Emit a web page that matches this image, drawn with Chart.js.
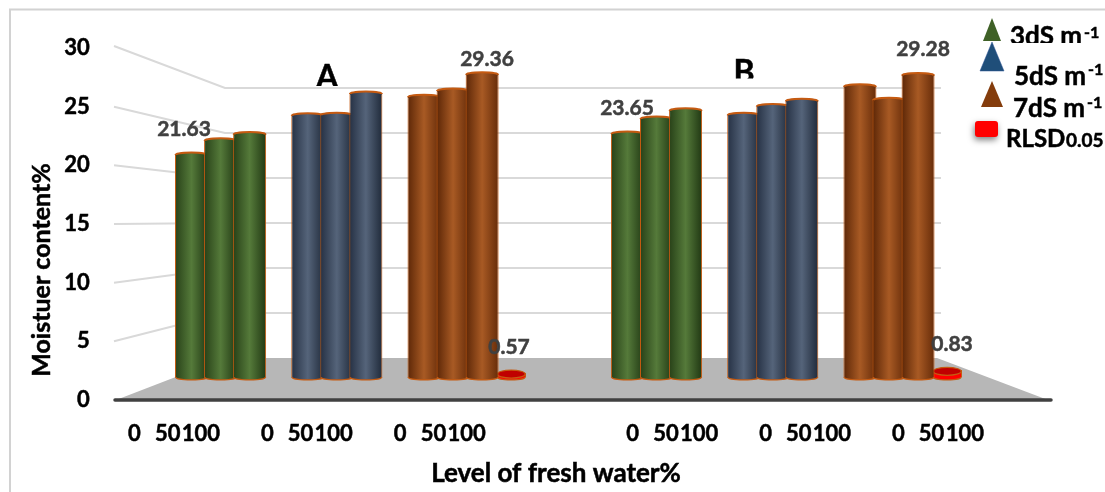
<!DOCTYPE html>
<html>
<head>
<meta charset="utf-8">
<title>Moisture content</title>
<script src="https://cdn.jsdelivr.net/npm/chart.js@4"></script>
<style>
  html, body { margin: 0; padding: 0; background: #fff; }
  canvas { display: block; }
</style>
</head>
<body>
<canvas id="chart" width="1105" height="492"></canvas>
<script>
// one entry per bar slot, null = gap between the groups
const slots = new Array(32).fill("");
const salt3 = [null, null, 21.63, 23.0, 23.6, null, null, null, null, null, null, null, null, null, null, null, null, 23.65, 25.1, 25.9, null, null, null, null, null, null, null, null, null, null, null, null];
const salt5 = [null, null, null, null, null, null, 25.4, 25.45, 27.5, null, null, null, null, null, null, null, null, null, null, null, null, 25.45, 26.3, 26.8, null, null, null, null, null, null, null, null];
const salt7 = [null, null, null, null, null, null, null, null, null, null, 27.2, 27.8, 29.36, null, null, null, null, null, null, null, null, null, null, null, null, 28.2, 26.9, 29.28, null, null, null, null];
const rlsd = [null, null, null, null, null, null, null, null, null, null, null, null, null, 0.57, null, null, null, null, null, null, null, null, null, null, null, null, null, null, 0.83, null, null, null];

// bottom axis, its own 28 slots because the labels do not line up with the bars
const waterTicks = ["0", "50", "100", "", "0", "50", "100", "", "0", "50", "100", "", "", "", "", "0", "50", "100", "", "0", "50", "100", "", "0", "50", "100", "", ""];
const moistureTicks = [0, 5, 10, 15, 20, 25, 30];

const yTitle = "Moistuer content%";
const xTitle = "Level of fresh water%";
const FONT = "Lato, 'Open Sans', sans-serif";

function cylinderFill(stops) {
  return (c) => {
    if (c.dataIndex === undefined) return stops[1];
    const scale = c.chart.scales.x;
    const mid = scale.getPixelForValue(c.dataIndex);
    if (!Number.isFinite(mid)) return stops[1]; // first pass, before layout
    const half = 17;
    const g = c.chart.ctx.createLinearGradient(mid - half, 0, mid + half, 0);
    g.addColorStop(0, stops[0]);
    g.addColorStop(0.5, stops[1]);
    g.addColorStop(1, stops[2]);
    return g;
  };
}

// bar with rounded top and bottom so that it looks like a cylinder
class CylinderBar extends Chart.BarElement {
  draw(ctx) {
    const { x, y, base, width } = this;
    const o = this.options;
    const disc = base - y < 20;
    const rx = width / 2 - 0.5;
    ctx.save();
    ctx.fillStyle = o.backgroundColor;
    ctx.strokeStyle = o.borderColor;
    ctx.lineWidth = 1.2;
    ctx.beginPath();
    ctx.ellipse(x, base, rx, 3, 0, 0, Math.PI);
    ctx.fill();
    ctx.stroke();
    ctx.restore();
    super.draw(ctx);
    ctx.save();
    ctx.fillStyle = disc ? "#c00000" : o.backgroundColor;
    ctx.strokeStyle = o.borderColor;
    ctx.lineWidth = disc ? 1.2 : 2;
    ctx.beginPath();
    ctx.ellipse(x, y + 1, rx, disc ? 4 : 2.5, 0, 0, Math.PI * 2);
    ctx.fill();
    if (!disc) {
      // only the far edge of the top shows
      ctx.beginPath();
      ctx.ellipse(x, y + 1, rx, 2.5, 0, Math.PI, Math.PI * 2);
    }
    ctx.stroke();
    ctx.restore();
  }
}
CylinderBar.id = "cylinderBar";
CylinderBar.defaults = Chart.BarElement.defaults;
Chart.register(CylinderBar);
Chart.defaults.datasets.bar.dataElementType = "cylinderBar";

function text(ctx, str, x, y, font, color, align) {
  ctx.font = font;
  ctx.fillStyle = color || "#000";
  ctx.strokeStyle = color || "#000";
  ctx.lineWidth = 0.5;
  ctx.textAlign = align || "left";
  ctx.textBaseline = "alphabetic";
  ctx.strokeText(str, x, y);
  ctx.fillText(str, x, y);
}

// same text but with everything under clipY cut off, like in the original picture
function clippedText(ctx, str, x, y, clipY, font, align) {
  ctx.save();
  ctx.beginPath();
  ctx.rect(0, 0, 1105, clipY);
  ctx.clip();
  text(ctx, str, x, y, font, "#000", align);
  ctx.restore();
}

function triangle(ctx, mid, top, half, bottom, color, edge) {
  ctx.beginPath();
  ctx.moveTo(mid, top);
  ctx.lineTo(mid + half, bottom);
  ctx.lineTo(mid - half, bottom);
  ctx.closePath();
  ctx.fillStyle = color;
  ctx.fill();
  if (edge) {
    ctx.strokeStyle = edge;
    ctx.stroke();
  }
}

const wallPlugin = {
  id: "wall",
  beforeDatasetsDraw(chart) {
    const ctx = chart.ctx;
    const y = chart.scales.y;
    const backZero = 358;
    const backUnit = 9;
    ctx.save();
    // frame
    ctx.strokeStyle = "#d2d2d2";
    ctx.lineWidth = 2;
    ctx.beginPath();
    ctx.moveTo(1105, 9.5);
    ctx.lineTo(10, 9.5);
    ctx.lineTo(10, 492);
    ctx.stroke();
    // floor
    ctx.fillStyle = "#b7b7b7";
    ctx.beginPath();
    ctx.moveTo(116, 400);
    ctx.lineTo(225, backZero);
    ctx.lineTo(937, backZero);
    ctx.lineTo(1048, 400);
    ctx.closePath();
    ctx.fill();
    // grid on the back wall
    ctx.strokeStyle = "#d9d9d9";
    ctx.lineWidth = 2;
    moistureTicks.forEach((v) => {
      if (v === 0) return;
      const back = backZero - v * backUnit;
      ctx.beginPath();
      ctx.moveTo(114, y.getPixelForValue(v) - (v === 30 ? 2 : 0));
      ctx.lineTo(225, back);
      ctx.lineTo(941, back);
      ctx.stroke();
    });
    // axis line
    ctx.strokeStyle = "#404040";
    ctx.lineWidth = 3.5;
    ctx.lineCap = "round";
    ctx.beginPath();
    ctx.moveTo(115, 400);
    ctx.lineTo(1051, 400);
    ctx.stroke();
    ctx.restore();
  },
  afterDatasetsDraw(chart) {
    const ctx = chart.ctx;
    ctx.save();
    const gray = "#404040";
    const small = "bold 21px " + FONT;
    text(ctx, "21.63", 184, 136, small, gray, "center");
    text(ctx, "29.36", 487, 66, small, gray, "center");
    text(ctx, "0.57", 509, 354, small, gray, "center");
    text(ctx, "23.65", 627, 115, small, gray, "center");
    text(ctx, "29.28", 923, 56, small, gray, "center");
    text(ctx, "0.83", 952, 351, small, gray, "center");

    clippedText(ctx, "A", 327, 88, 86, "bold 32px " + FONT, "center");
    clippedText(ctx, "B", 744, 83, 78.5, "bold 32px " + FONT, "center");

    text(ctx, xTitle, 556, 482, "bold 26px " + FONT, "#000", "center");
    ctx.save();
    ctx.translate(50, 270);
    ctx.rotate(-Math.PI / 2);
    text(ctx, yTitle, 0, 0, "bold 25px " + FONT, "#000", "center");
    ctx.restore();

    // legend
    const big = "bold 26px " + FONT;
    const sup = "bold 16px " + FONT;
    triangle(ctx, 992, 18, 9, 41, "#3f6127");
    triangle(ctx, 992, 42, 12, 71, "#1f4e79", "#2f5597");
    triangle(ctx, 992, 81, 11, 107, "#843c0c");
    clippedText(ctx, "3dS m", 1010, 45, 43, big);
    text(ctx, "-1", 1084, 38, sup);
    text(ctx, "5dS m", 1014, 85, big);
    text(ctx, "-1", 1088, 75, sup);
    text(ctx, "7dS m", 1013, 117, big);
    text(ctx, "-1", 1087, 108, sup);
    ctx.save();
    ctx.shadowColor = "rgba(0,0,0,0.5)";
    ctx.shadowBlur = 6;
    ctx.shadowOffsetX = -1;
    ctx.shadowOffsetY = 3;
    ctx.fillStyle = "#ff0000";
    ctx.beginPath();
    ctx.roundRect(975, 121, 23, 16, 3);
    ctx.fill();
    ctx.restore();
    text(ctx, "RLSD", 1006, 147, "bold 24px " + FONT);
    text(ctx, "0.05", 1066, 147, "bold 19px " + FONT);
    ctx.restore();
  },
};

function series(label, data, stops, order, percent) {
  return {
    label: label,
    data: data,
    xAxisID: "x",
    yAxisID: "y2",
    base: 0.2,
    backgroundColor: cylinderFill(stops),
    borderColor: "#c55a11",
    borderWidth: 1,
    grouped: false,
    order: order,
    barPercentage: percent,
    categoryPercentage: 1,
  };
}

new Chart(document.getElementById("chart"), {
  type: "bar",
  data: {
    labels: slots,
    datasets: [
      series("3dS m-1", salt3, ["#263f17", "#557a3a", "#1f3612"], 4, 1.135),
      series("5dS m-1", salt5, ["#242f42", "#55647a", "#1e2838"], 3, 1.135),
      series("7dS m-1", salt7, ["#5a2506", "#a85a24", "#642a08"], 1, 1.135),
      series("RLSD0.05", rlsd, ["#ff0000", "#ff0000", "#ff0000"], 2, 1),
    ],
  },
  options: {
    responsive: false,
    animation: false,
    layout: { padding: { top: 48, right: 56.15, left: 0, bottom: 0 } },
    plugins: {
      legend: { display: false },
      title: { display: false },
      tooltip: { enabled: false },
    },
    scales: {
      x: {
        type: "category",
        display: false,
        stacked: false,
      },
      x2: {
        type: "category",
        position: "bottom",
        labels: waterTicks,
        border: { display: false },
        grid: { display: false, drawTicks: false },
        ticks: {
          autoSkip: false,
          maxRotation: 0,
          padding: 21,
          labelOffset: -1,
          color: "#000",
          textStrokeColor: "#000",
          textStrokeWidth: 0.5,
          font: { family: FONT, weight: "bold", size: 22 },
        },
        afterFit(scale) {
          scale.height = 92;
        },
      },
      y: {
        min: 0,
        max: 30,
        position: "left",
        border: { display: false },
        grid: { display: false, drawTicks: false },
        ticks: {
          stepSize: 5,
          padding: 29,
          color: "#000",
          textStrokeColor: "#000",
          textStrokeWidth: 0.5,
          font: { family: FONT, weight: "bold", size: 22 },
        },
        afterFit(scale) {
          scale.width = 118.85;
        },
      },
      // bars stand in front of the wall so they have their own scale
      y2: {
        display: false,
        min: -2.02,
        max: 31.83,
      },
    },
  },
  plugins: [wallPlugin],
});
</script>
</body>
</html>
